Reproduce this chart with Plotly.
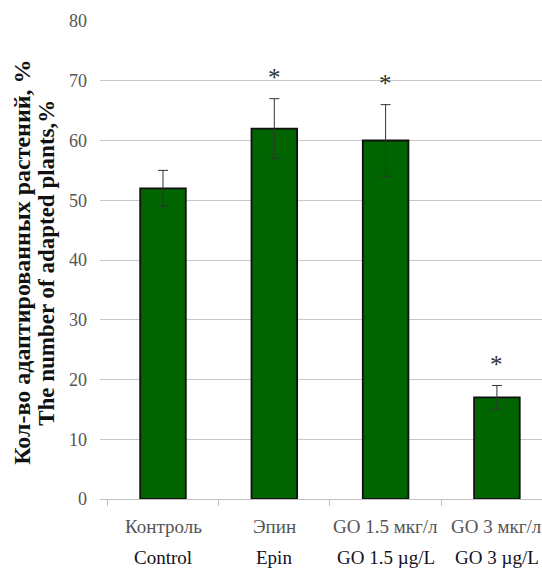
import plotly.graph_objects as go

categories = ["Control", "Epin", "GO 1.5", "GO 3"]
labels_ru = ["Контроль", "Эпин", "GO 1.5 мкг/л", "GO 3 мкг/л"]
labels_en = ["Control", "Epin", "GO 1.5 µg/L", "GO 3 µg/L"]
values = [52, 62, 60, 17]
errors = [3, 5, 6, 2]
significant = [False, True, True, True]
y_ticks = [0, 10, 20, 30, 40, 50, 60, 70, 80]

SERIF = "'Times New Roman', 'Liberation Serif', 'DejaVu Serif', serif"

fig = go.Figure()
fig.add_trace(go.Bar(
    x=categories, y=values,
    width=0.41,
    marker=dict(color="#006400", line=dict(color="#111111", width=1.8)),
    error_y=dict(type="data", array=errors, visible=True,
                 color="#333333", thickness=1, width=5),
    showlegend=False,
))

annotations = []
for c, v, e, s in zip(categories, values, errors, significant):
    if s:
        annotations.append(dict(x=c, y=v + e + 3.5, xref="x", yref="y",
                                text="*", showarrow=False,
                                font=dict(family=SERIF, size=25, color="#333333"),
                                yanchor="middle"))
for c, ru, en in zip(categories, labels_ru, labels_en):
    annotations.append(dict(x=c, y=-27 / 478, xref="x", yref="paper",
                            text=ru, showarrow=False, yanchor="middle",
                            font=dict(family=SERIF, size=19, color="#555555")))
    annotations.append(dict(x=c, y=-58 / 478, xref="x", yref="paper",
                            text=en, showarrow=False, yanchor="middle",
                            font=dict(family=SERIF, size=19, color="#111122")))

annotations.append(dict(x=-78 / 442, y=0.494, xref="paper", yref="paper",
                        text="<b>Кол-во адаптированных растений, %</b>",
                        textangle=-90, showarrow=False, xanchor="center",
                        font=dict(family=SERIF, size=24, color="#111111")))
annotations.append(dict(x=-53 / 442, y=0.494, xref="paper", yref="paper",
                        text="<b>The number of adapted plants,%</b>",
                        textangle=-90, showarrow=False, xanchor="center",
                        font=dict(family=SERIF, size=23, color="#111111")))

fig.update_layout(
    width=542, height=569,
    margin=dict(l=100, r=0, t=21, b=70),
    plot_bgcolor="white", paper_bgcolor="white",
    annotations=annotations,
    font=dict(family=SERIF),
)
fig.update_xaxes(
    type="category", range=[-0.566, 3.405],
    showticklabels=False, showgrid=False,
    showline=True, linecolor="#c0c0c0", linewidth=1,
    ticks="outside", tickson="boundaries", ticklen=6, tickcolor="#c0c0c0",
)
fig.update_yaxes(
    range=[0, 80], tickvals=y_ticks,
    showgrid=True, gridcolor="#c8c8c8", gridwidth=1,
    zeroline=True, zerolinecolor="#c0c0c0", zerolinewidth=1,
    showline=False,
    tickfont=dict(family=SERIF, size=18, color="#555555"),
    ticklabelstandoff=12,
)

fig.write_html("out.html")
